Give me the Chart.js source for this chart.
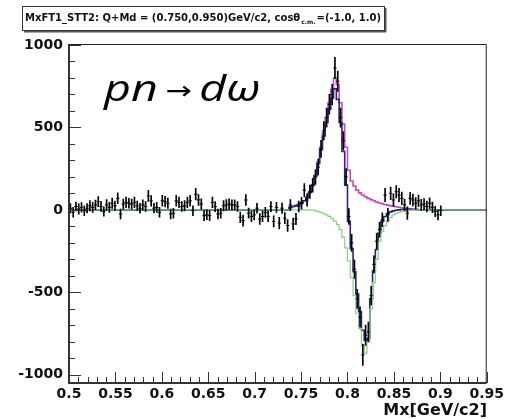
<!DOCTYPE html>
<html>
<head>
<meta charset="utf-8">
<script src="https://cdn.jsdelivr.net/npm/chart.js@4/dist/chart.umd.min.js"></script>
<style>
  html, body { margin: 0; padding: 0; background: #fff; }
  #wrap { width: 507px; height: 419px; position: relative; }
</style>
</head>
<body>
<div id="wrap"><canvas id="c" width="507" height="419"></canvas></div>
<script>
// Missing-mass histogram Mx, bins of 3 MeV/c2 starting at 0.5 GeV/c2
const BIN_START = 0.5;
const BIN_WIDTH = 0.003;

// measured counts per bin
const COUNTS = [
  10, -15, 20, 5, 15, -5, 10, 25, 15, 30,
  50, 20, -10, 30, 15, 40, 25, 70, -25, 35,
  45, 40, 35, 45, 25, 10, 30, 20, 85, 55,
  10, 15, -15, 55, 50, 40, -25, -20, 55, 45,
  20, 25, 45, 55, -5, 95, 60, 35, -35, -30,
  -35, 45, 20, -25, -20, 25, 30, 35, 30, 30,
  20, -45, -65, 60, -20, -40, -30, 10, -55, -40,
  -15, -40, 20, -70, 15, -80, 10, -50, -95, 30,
  -85, -55, 20, 40, 120, 60, 110, 150, 200, 260,
  370, 480, 560, 640, 700, 860, 780, 560, 420, 200,
  -40, -200, -360, -540, -650, -880, -760, -740, -520, -330,
  -190, -120, -60, 90, -30, 100, 60, 110, 90, 70,
  30, -20, 70, 60, 40, 55, 30, 35, 20, 40,
  15, -10, -30, -5
];

// statistical errors per bin
const ERRORS = [
  28, 30, 27, 31, 29, 30, 28, 32, 30, 29,
  31, 30, 28, 32, 30, 31, 29, 33, 30, 31,
  32, 30, 31, 32, 29, 30, 31, 30, 34, 32,
  29, 30, 30, 33, 32, 31, 30, 30, 33, 32,
  30, 31, 32, 33, 30, 35, 33, 32, 30, 30,
  31, 32, 31, 30, 30, 31, 32, 32, 31, 31,
  30, 32, 34, 33, 31, 32, 31, 30, 33, 32,
  31, 32, 31, 34, 31, 35, 31, 33, 36, 33,
  35, 34, 33, 36, 40, 38, 40, 42, 45, 48,
  52, 55, 58, 60, 62, 65, 62, 58, 55, 50,
  48, 52, 56, 58, 62, 64, 62, 60, 56, 52,
  48, 45, 42, 40, 40, 38, 38, 38, 40, 38,
  36, 38, 37, 36, 35, 35, 34, 34, 33, 33,
  32, 31, 31, 30
];

// fit components, given bin by bin from this bin on (zero elsewhere)
const FIT_FIRST_BIN = 79;

// omega peak (magenta)
const FIT_PEAK = [
  15, 20, 26, 33, 42, 55, 75, 105, 150, 210,
  290, 380, 470, 560, 650, 730, 800, 760, 650, 520,
  380, 240, 175, 145, 120, 103, 90, 80, 70, 62,
  55, 48, 42, 37, 33, 29, 25, 22, 19, 16,
  13, 10, 8, 6, 4, 3, 2, 1, 0, 0, 0
];

// total fit (blue)
const FIT_SUM = [
  15, 20, 26, 33, 42, 55, 75, 105, 148, 205,
  280, 365, 448, 530, 610, 678, 735, 670, 530, 355,
  150, -70, -235, -375, -510, -617, -730, -790, -780, -540,
  -370, -240, -140, -70, -40, -22, -12, -6, -2, 0,
  2, 3, 3, 3, 2, 2, 1, 1, 0, 0, 0
];

// dip component (green)
const FIT_DIP = [
  0, 0, 0, 0, 0, 0, 0, 0, -2, -5,
  -10, -15, -22, -30, -40, -52, -68, -90, -120, -165,
  -230, -310, -410, -520, -630, -720, -820, -870, -800, -600,
  -440, -300, -190, -130, -95, -65, -45, -30, -22, -15,
  -10, -6, -4, -2, -1, 0, 0, 0, 0, 0, 0
];

const X_RANGE = [0.5, 0.95];
const Y_RANGE = [-1050, 1006];
const X_TICKS = [0.5, 0.55, 0.6, 0.65, 0.7, 0.75, 0.8, 0.85, 0.9, 0.95];
const Y_TICKS = [-1000, -500, 0, 500, 1000];

const TITLE_MAIN = 'MxFT1_STT2: Q+Md = (0.750,0.950)GeV/c2, cos\u03B8';
const TITLE_SUB = 'c.m.';
const TITLE_END = '=(-1.0, 1.0)';
const AXIS_TITLE = 'Mx[GeV/c2]';
const REACTION = ['pn', '\u2192', 'd\u03C9'];

const binCenter = i => BIN_START + BIN_WIDTH * (i + 0.5);
const binLow = i => BIN_START + BIN_WIDTH * i;

const points = COUNTS.map((v, i) => ({ x: binCenter(i), y: v }));
const errorBars = COUNTS.map((v, i) => ({ x: binCenter(i), y: [v - ERRORS[i], v + ERRORS[i]] }));

function stepCurve(values) {
  const pts = [{ x: X_RANGE[0], y: 0 }];
  values.forEach((v, k) => pts.push({ x: binLow(FIT_FIRST_BIN + k), y: v }));
  pts.push({ x: binLow(FIT_FIRST_BIN + values.length), y: 0 });
  pts.push({ x: X_RANGE[1], y: 0 });
  return pts;
}

const TICK_FONT = { family: 'DejaVu Sans', weight: 'bold', size: 14 };

// ROOT-style frame: axis lines plus inward major/minor ticks
const framePlugin = {
  id: 'frame',
  afterDatasetsDraw(chart) {
    const { ctx, chartArea: a, scales } = chart;
    const xs = scales.x, ys = scales.y;
    ctx.save();
    ctx.strokeStyle = '#222';
    ctx.lineWidth = 1;
    ctx.beginPath();
    ctx.moveTo(a.left, a.top + 0.5); ctx.lineTo(a.right - 0.5, a.top + 0.5);
    ctx.lineTo(a.right - 0.5, a.bottom);
    ctx.stroke();
    ctx.lineWidth = 2;
    ctx.strokeStyle = '#333';
    ctx.beginPath();
    ctx.moveTo(a.left, a.top); ctx.lineTo(a.left, a.bottom); ctx.lineTo(a.right, a.bottom);
    ctx.stroke();
    ctx.lineWidth = 1;
    ctx.beginPath();
    for (let m = 50; m <= 95; m++) {
      const px = Math.round(xs.getPixelForValue(m / 100)) + 0.5;
      const len = m % 5 === 0 ? 11 : 6;
      ctx.moveTo(px, a.bottom); ctx.lineTo(px, a.bottom - len);
    }
    for (let h = -10; h <= 10; h++) {
      const py = Math.round(ys.getPixelForValue(h * 100)) + 0.5;
      const len = h % 5 === 0 ? 12 : 6;
      ctx.moveTo(a.left, py); ctx.lineTo(a.left + len, py);
    }
    ctx.stroke();
    ctx.restore();
  },
  afterDraw(chart) {
    const { ctx } = chart;
    ctx.save();
    // histogram title box
    const bx = 22, by = 6, bw = 362, bh = 24;
    ctx.fillStyle = '#fff';
    ctx.fillRect(bx, by, bw, bh);
    ctx.strokeStyle = '#333';
    ctx.lineWidth = 1;
    ctx.strokeRect(bx + 0.5, by + 0.5, bw, bh);
    ctx.fillStyle = '#555';
    ctx.fillRect(bx + 2, by + bh + 1, bw, 1.5);
    ctx.fillRect(bx + bw + 1, by + 2, 1.5, bh);
    ctx.fillStyle = '#111';
    ctx.textBaseline = 'alphabetic';
    ctx.font = 'bold 10px "DejaVu Sans"';
    let x = 25;
    const base = 21;
    ctx.fillText(TITLE_MAIN, x, base);
    x += ctx.measureText(TITLE_MAIN).width + 1;
    ctx.font = 'bold 6px "DejaVu Sans"';
    ctx.fillText(TITLE_SUB, x, base + 3);
    x += ctx.measureText(TITLE_SUB).width + 1;
    ctx.font = 'bold 10px "DejaVu Sans"';
    ctx.fillText(TITLE_END, x, base);

    // x-axis title
    ctx.font = 'bold 16px "DejaVu Sans"';
    ctx.textAlign = 'right';
    ctx.fillText(AXIS_TITLE, 487, 415);

    // reaction label, set in a wide italic face
    ctx.textAlign = 'left';
    ctx.fillStyle = '#000';
    const sx = 1.26;
    ctx.translate(104, 101);
    ctx.scale(sx, 1);
    let rx = 0;
    ctx.font = 'italic 37px "Open Sans"';
    ctx.fillText(REACTION[0], rx, 0);
    rx += ctx.measureText(REACTION[0]).width + 6;
    ctx.font = '25px "DejaVu Sans"';
    ctx.fillText(REACTION[1], rx, -2);
    rx += ctx.measureText(REACTION[1]).width + 6;
    ctx.font = 'italic 37px "Open Sans"';
    ctx.fillText(REACTION[2], rx, 0);
    ctx.restore();
  }
};

new Chart(document.getElementById('c'), {
  type: 'line',
  data: {
    datasets: [
      {
        type: 'bar', data: errorBars, backgroundColor: '#000', borderWidth: 0,
        barThickness: 1, grouped: false, order: 0
      },
      {
        type: 'scatter', data: points, pointStyle: 'line', pointRadius: 1.7,
        borderColor: '#000', backgroundColor: '#000', pointBorderWidth: 1, showLine: false, order: 0
      },
      {
        data: stepCurve(FIT_DIP), stepped: true, borderColor: '#86d47a', borderWidth: 1.2,
        pointRadius: 0, fill: false, order: 1
      },
      {
        data: stepCurve(FIT_SUM), stepped: true, borderColor: '#25287a', borderWidth: 1.6,
        pointRadius: 0, fill: false, order: 2
      },
      {
        data: stepCurve(FIT_PEAK), stepped: true, borderColor: '#cf45c8', borderWidth: 1.6,
        pointRadius: 0, fill: false, order: 3
      }
    ]
  },
  options: {
    responsive: false,
    animation: false,
    devicePixelRatio: 1,
    layout: { padding: { top: 44, right: 19, left: 0, bottom: 0 } },
    plugins: { legend: { display: false }, tooltip: { enabled: false }, title: { display: false } },
    scales: {
      x: {
        type: 'linear', min: X_RANGE[0], max: X_RANGE[1], offset: false,
        grid: { display: false, drawTicks: false }, border: { display: false },
        afterBuildTicks: s => { s.ticks = X_TICKS.map(v => ({ value: v })); },
        afterFit: s => { s.height = 36; },
        ticks: {
          font: TICK_FONT, color: '#111', padding: 3, maxRotation: 0, autoSkip: false,
          callback: v => String(+(+v).toFixed(2))
        }
      },
      y: {
        type: 'linear', min: Y_RANGE[0], max: Y_RANGE[1],
        grid: { display: false, drawTicks: false }, border: { display: false },
        afterBuildTicks: s => { s.ticks = Y_TICKS.map(v => ({ value: v })); },
        afterFit: s => { s.width = 69; },
        ticks: { font: TICK_FONT, color: '#111', padding: 6, callback: v => String(v) }
      }
    }
  },
  plugins: [framePlugin]
});
</script>
</body>
</html>
